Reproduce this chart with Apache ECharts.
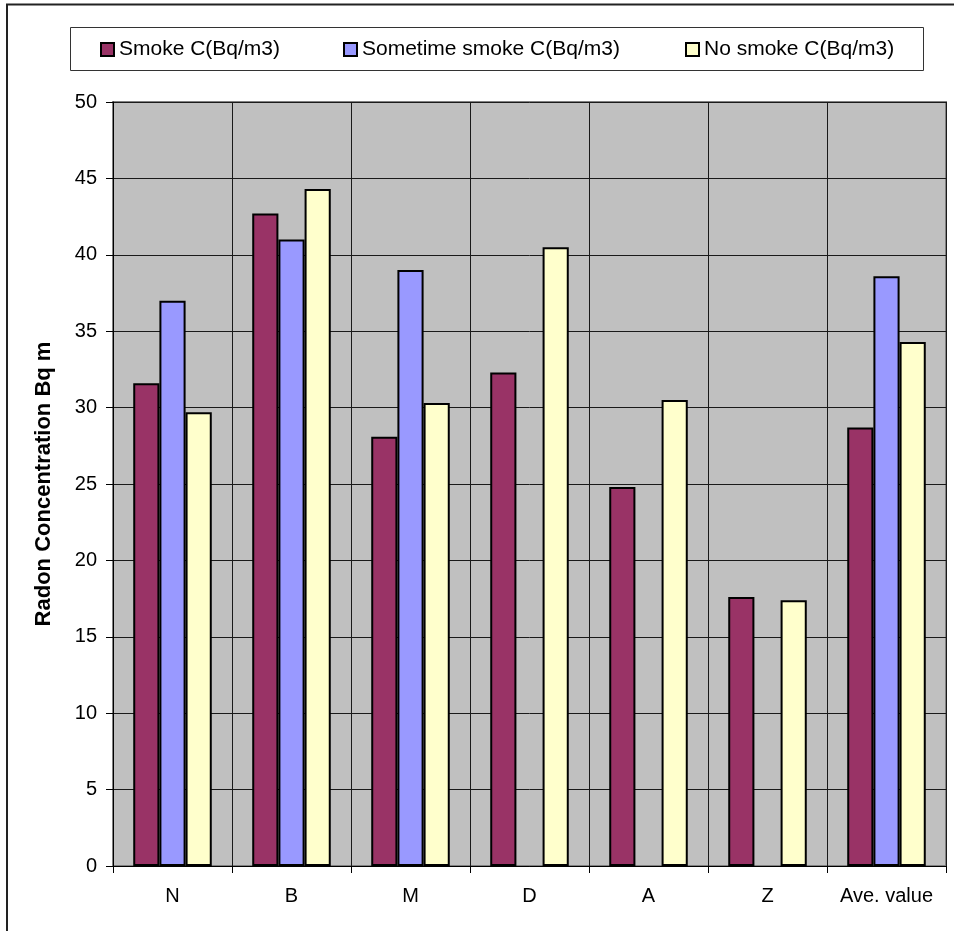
<!DOCTYPE html>
<html>
<head>
<meta charset="utf-8">
<script src="https://cdn.jsdelivr.net/npm/echarts@6/dist/echarts.min.js"></script>
<style>
  html, body { margin: 0; padding: 0; background: #ffffff; }
  #chart { width: 954px; height: 931px; }
</style>
</head>
<body>
<div id="chart"></div>
<script>
// Radon concentration by group and smoking habit (Bq/m3)
var categories = ['N', 'B', 'M', 'D', 'A', 'Z', 'Ave. value'];
var smoke = [31.6, 42.7, 28.1, 32.3, 24.8, 17.6, 28.7];
var sometimeSmoke = [37.0, 41.0, 39.0, null, null, null, 38.6];
var noSmoke = [29.7, 44.3, 30.3, 40.5, 30.5, 17.4, 34.3];
var seriesNames = ['Smoke C(Bq/m3)', 'Sometime smoke C(Bq/m3)', 'No smoke C(Bq/m3)'];
var yTicks = [0, 5, 10, 15, 20, 25, 30, 35, 40, 45, 50];

var FONT = '"Liberation Sans", Arial, sans-serif';
var colors = ['#993366', '#9999FF', '#FFFFCC'];
var legendLefts = [100, 343, 685];

var chart = echarts.init(document.getElementById('chart'), null, { renderer: 'canvas' });

function barSeries(name, data, color) {
  return {
    name: name,
    type: 'bar',
    data: data,
    barGap: '0%',
    barCategoryGap: '34%',
    itemStyle: { color: color, borderColor: '#000000', borderWidth: 2 },
    emphasis: { disabled: true }
  };
}

chart.setOption({
  animation: false,
  backgroundColor: '#ffffff',
  graphic: [
    // outer frame of the chart area
    { type: 'polyline', z: 100, shape: { points: [[7, 931], [7, 4.5], [954, 4.5]] },
      style: { stroke: '#222', lineWidth: 2, fill: null } },
    // legend frame
    { type: 'rect', z: 0, shape: { x: 70.5, y: 27.5, width: 853, height: 43 },
      style: { fill: '#ffffff', stroke: '#333', lineWidth: 1 } }
  ],
  legend: seriesNames.map(function (n, i) {
    return {
      data: [n],
      left: legendLefts[i],
      top: 39,
      padding: 0,
      icon: 'rect',
      itemWidth: 13,
      itemHeight: 13,
      itemGap: 0,
      itemStyle: { borderColor: '#000', borderWidth: 2 },
      textStyle: { fontFamily: FONT, fontSize: 21, color: '#000' },
      selectedMode: false
    };
  }),
  grid: {
    left: 113, right: 8, top: 102, bottom: 65,
    show: true,
    backgroundColor: '#C0C0C0',
    borderColor: '#808080',
    borderWidth: 2
  },
  xAxis: {
    type: 'category',
    data: categories,
    boundaryGap: true,
    axisLine: { show: true, lineStyle: { color: '#000', width: 1 } },
    axisTick: { show: true, interval: 0, length: 7, inside: false, lineStyle: { color: '#000' } },
    axisLabel: { interval: 0, fontFamily: FONT, fontSize: 20, color: '#000', margin: 20 },
    splitLine: { show: true, interval: 0, lineStyle: { color: '#1a1a1a', width: 1 } }
  },
  yAxis: {
    type: 'value',
    min: yTicks[0],
    max: yTicks[yTicks.length - 1],
    interval: 5,
    name: 'Radon Concentration Bq m',
    nameLocation: 'middle',
    nameGap: 58,
    nameTextStyle: { fontFamily: FONT, fontSize: 22, fontWeight: 'bold', color: '#000' },
    axisLine: { show: true, lineStyle: { color: '#000', width: 1 } },
    axisTick: { show: true, length: 7, lineStyle: { color: '#000' } },
    axisLabel: { fontFamily: FONT, fontSize: 20, color: '#000', margin: 16 },
    splitLine: { show: true, lineStyle: { color: '#1a1a1a', width: 1 } }
  },
  series: [
    barSeries(seriesNames[0], smoke, colors[0]),
    barSeries(seriesNames[1], sometimeSmoke, colors[1]),
    barSeries(seriesNames[2], noSmoke, colors[2])
  ]
});
</script>
</body>
</html>
